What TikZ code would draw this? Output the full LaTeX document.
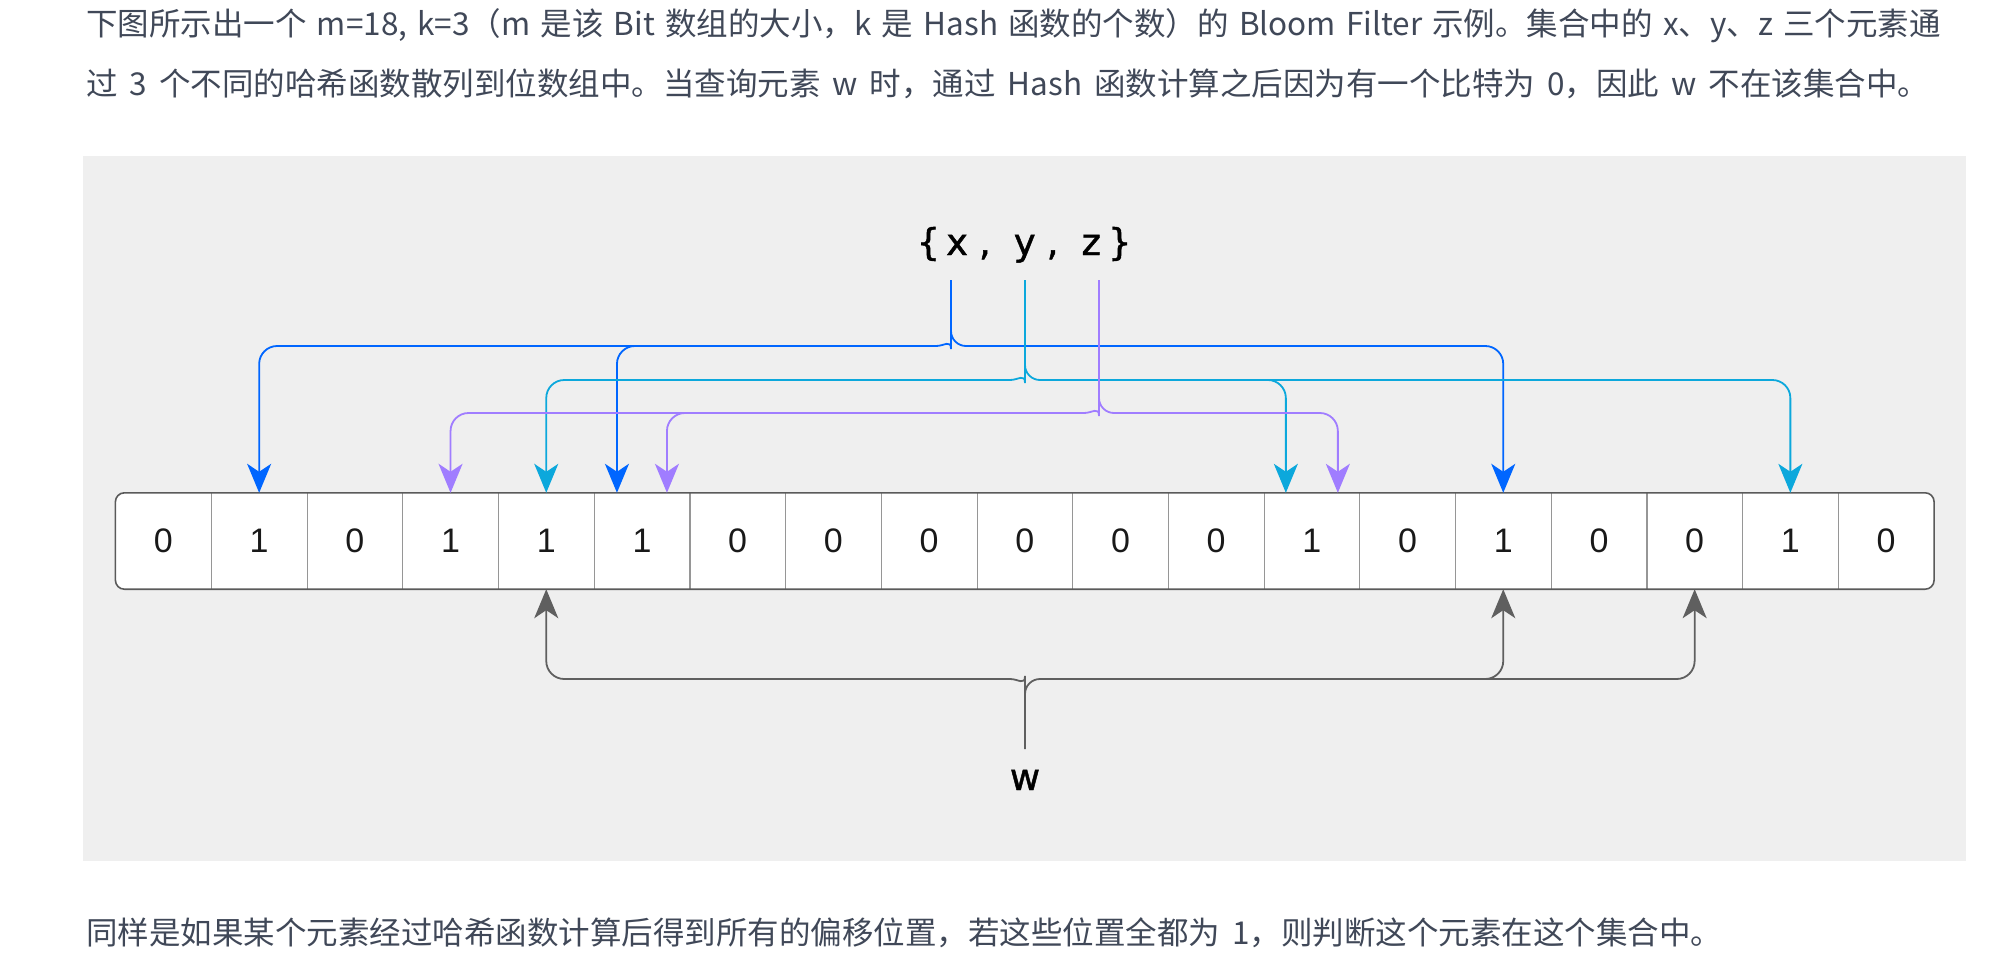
\documentclass[tikz,border=0pt]{standalone}
\usepackage{fontspec}
\setmainfont{Liberation Sans}
\newfontfamily\cjk{Noto Sans CJK SC}
\newfontfamily\djv[FakeBold=1.2]{DejaVu Sans}
\usetikzlibrary{arrows.meta}
\definecolor{bgg}{RGB}{239,239,239}
\definecolor{txt}{RGB}{64,72,88}
\definecolor{cblue}{RGB}{0,102,255}
\definecolor{ccyan}{RGB}{12,168,220}
\definecolor{cpurp}{RGB}{160,125,255}
\definecolor{cgray}{RGB}{95,95,95}
\definecolor{cborder}{RGB}{90,90,90}
\definecolor{cdiv}{RGB}{150,150,150}
\begin{document}
\begin{tikzpicture}[x=1pt,y=-1pt,
  para/.style={anchor=base west, inner sep=0pt, text=txt, font=\cjk\fontsize{31.5}{36}\selectfont},
  cell/.style={minimum width=95.7pt, minimum height=96pt, inner sep=0pt, font=\fontsize{34}{40}\selectfont, text=black!90},
  tip/.style={-{Stealth[length=29pt,width=24pt,inset=8pt]}},
  conn/.style={line width=1.8pt, rounded corners=18pt},
  xc/.style={conn, draw=cblue},
  yc/.style={conn, draw=ccyan},
  zc/.style={conn, draw=cpurp},
  gc/.style={conn, draw=cgray},
  big/.style={font=\djv\fontsize{37}{40}\selectfont, text=black, inner sep=0pt}]
\useasboundingbox (0,0) rectangle (1998,966);
% text
\node[para] (t1) at (86,35.5) {\spaceskip=10.2pt\relax 下图所示出一个 m=18, k=3（m 是该 Bit 数组的大小，k 是 Hash 函数的个数）的 Bloom Filter 示例。集合中的 x、y、z 三个元素通};
\node[para] (t2) at (86,95.5) {\spaceskip=12pt\relax 过 3 个不同的哈希函数散列到位数组中。当查询元素 w 时，通过 Hash 函数计算之后因为有一个比特为 0，因此 w 不在该集合中。};
\node[para] (t3) at (86,944.5) {\spaceskip=12pt\relax 同样是如果某个元素经过哈希函数计算后得到所有的偏移位置，若这些位置全都为 1，则判断这个元素在这个集合中。};
% background
\fill[bgg] (83,156) rectangle (1966,861);
% array
\fill[white, rounded corners=9pt] (115.6,493) rectangle (1934,589);
\foreach \d [count=\i from 0] in {0,1,0,1,1,1,0,0,0,0,0,0,1,0,1,0,0,1,0}
  \node[cell] (c\i) at ({115.6+95.7*(\i+0.5)},541) {\d};
\foreach \i in {0,...,17}
  \draw[cdiv, line width=1.1pt] (c\i.north east) -- (c\i.south east);
\draw[cborder, line width=1.6pt, rounded corners=9pt] (c0.north west) rectangle (c18.south east);
% set and w
\node[big, anchor=base] (set) at (1024,255) {\{\hspace{6pt}x\hspace{11pt},\hspace{23pt}y\hspace{11pt},\hspace{23pt}z\hspace{7pt}\}};
\node[big, anchor=base] (w) at (1025,790) {w};
\coordinate (xs) at (951,280);
\coordinate (ys) at (1025,280);
\coordinate (zs) at (1099,280);
\coordinate (ws) at (1025,749);
% x connectors
\draw[xc] (xs) -- (951,331) .. controls (951,339.3) and (944.3,346) .. (936,346);
\draw[xc] (951,331) .. controls (951,339.3) and (957.7,346) .. (966,346);
\draw[xc, tip] (936,346) -| (c1.north);
\draw[xc, tip] (760,346) -| ([xshift=-25pt]c5.north);
\draw[xc, tip] (966,346) -| (c14.north);
% y connectors
\draw[yc] (ys) -- (1025,365) .. controls (1025,373.3) and (1018.3,380) .. (1010,380);
\draw[yc] (1025,365) .. controls (1025,373.3) and (1031.7,380) .. (1040,380);
\draw[yc, tip] (1010,380) -| (c4.north);
\draw[yc, tip] (1040,380) -| ([xshift=-26pt]c12.north);
\draw[yc, tip] (1040,380) -| (c17.north);
% z connectors
\draw[zc] (zs) -- (1099,398) .. controls (1099,406.3) and (1092.3,413) .. (1084,413);
\draw[zc] (1099,398) .. controls (1099,406.3) and (1105.7,413) .. (1114,413);
\draw[zc, tip] (1084,413) -| (c3.north);
\draw[zc, tip] (840,413) -| ([xshift=25pt]c5.north);
\draw[zc, tip] (1114,413) -| ([xshift=26pt]c12.north);
% w connectors
\draw[gc] (ws) -- (1025,694) .. controls (1025,685.7) and (1018.3,679) .. (1010,679);
\draw[gc] (1025,694) .. controls (1025,685.7) and (1031.7,679) .. (1040,679);
\draw[gc, tip] (1010,679) -| (c4.south);
\draw[gc, tip] (1040,679) -| (c14.south);
\draw[gc, tip] (1040,679) -| (c16.south);
\end{tikzpicture}
\end{document}
